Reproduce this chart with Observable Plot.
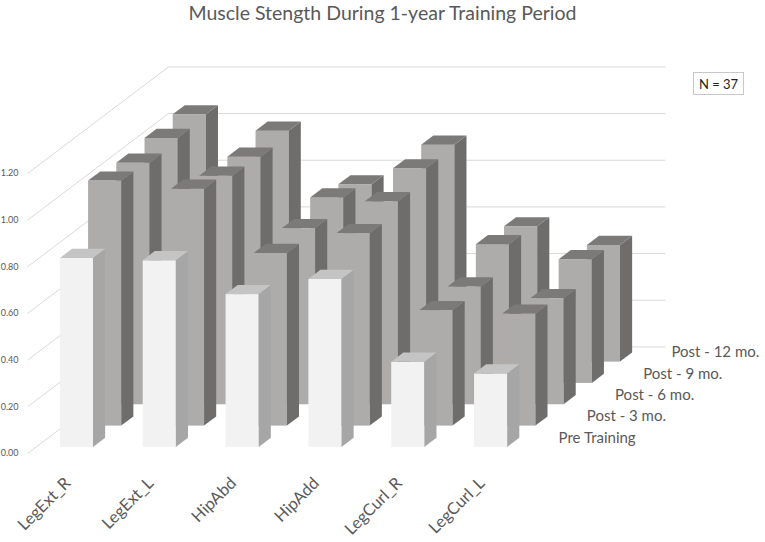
<!DOCTYPE html>
<html>
<head>
<meta charset="utf-8">
<script src="https://cdn.jsdelivr.net/npm/d3@7"></script>
<script src="https://cdn.jsdelivr.net/npm/@observablehq/plot@0.6"></script>
<style>
  body { margin: 0; background: #fff; }
  #wrap { position: relative; width: 765px; height: 542px; font-family: Lato, "Open Sans", sans-serif; }
  #title { position: absolute; left: 0; top: 3px; width: 765px; text-align: center; font: 19.5px/20px Lato, sans-serif; color: #595959; }
  #nbox { position: absolute; left: 693px; top: 72px; width: 51px; height: 23px; border: 1px solid #c8c8c8;
          font: 13px Lato, sans-serif; color: #222; display: flex; align-items: center; justify-content: center; box-sizing: border-box; }
</style>
</head>
<body>
<div id="wrap"><div id="title"></div><div id="nbox">N = 37</div></div>
<script>
const categories = ["LegExt_R", "LegExt_L", "HipAbd", "HipAdd", "LegCurl_R", "LegCurl_L"];
const seriesNames = ["Pre Training", "Post - 3 mo.", "Post - 6 mo.", "Post - 9 mo.", "Post - 12 mo."];
const preTraining = [0.81, 0.80, 0.655, 0.72, 0.365, 0.315];
const post3mo     = [1.05, 1.015, 0.74, 0.825, 0.495, 0.48];
const post6mo     = [1.035, 0.98, 0.755, 0.87, 0.505, 0.455];
const post9mo     = [1.05, 0.97, 0.795, 0.92, 0.595, 0.53];
const post12mo    = [1.06, 0.99, 0.76, 0.93, 0.58, 0.50];
const yTicks = [0, 0.2, 0.4, 0.6, 0.8, 1.0, 1.2];
const title = "Muscle Stength During 1-year Training Period";

const seriesValues = [preTraining, post3mo, post6mo, post9mo, post12mo];

// oblique projection: one depth row shifts by kx category units and ky value units
const kx = 0.3405, ky = 0.0914;
const depth = seriesNames.length;
const nCat = categories.length;
const bandLo = 0.3, bandHi = 0.7, depthLo = 0.285, depthHi = 0.715;

const bars = seriesValues.flatMap((vals, r) => vals.map((v, i) => ({r, i, v, id: r * 100 + i})));

const palette = {
  front: {front: "#f2f2f2", side: "#a6a6a6", top: "#c4c4c4"},
  back:  {front: "#aeabab", side: "#6f6c6c", top: "#7c7979"}
};

function rowMarks(r) {
  const rowBars = bars.filter(b => b.r === r);
  const z0 = r + depthLo, z1 = r + depthHi;
  const c = r === 0 ? palette.front : palette.back;
  const front = rowBars.map(b => ({
    x1: b.i + bandLo + z0 * kx, x2: b.i + bandHi + z0 * kx,
    y1: z0 * ky, y2: b.v + z0 * ky
  }));
  const side = rowBars.flatMap(b => [z0, z1].map(z => ({
    id: b.id, x: b.i + bandHi + z * kx, y1: z * ky, y2: b.v + z * ky
  })));
  const top = rowBars.flatMap(b => [z0, z1].map(z => ({
    id: b.id, y: b.v + z * ky, x1: b.i + bandLo + z * kx, x2: b.i + bandHi + z * kx
  })));
  return [
    Plot.rect(front, {x1: "x1", x2: "x2", y1: "y1", y2: "y2", fill: c.front}),
    Plot.areaY(side, {x: "x", y1: "y1", y2: "y2", z: "id", fill: c.side}),
    Plot.areaX(top, {y: "y", x1: "x1", x2: "x2", z: "id", fill: c.top})
  ];
}

const rows = d3.range(depth).reverse().flatMap(rowMarks);

const chart = Plot.plot({
  width: 765,
  height: 542,
  marginLeft: 27,
  marginRight: 241,
  marginTop: 44.7,
  marginBottom: 89,
  style: {fontFamily: "Lato, 'Open Sans', sans-serif", background: "#fff", overflow: "visible"},
  x: {domain: [0, nCat], axis: null},
  y: {domain: [0, 1.75], axis: null},
  marks: [
    // side wall gridlines
    Plot.link(yTicks, {x1: () => 0, y1: d => d, x2: () => depth * kx, y2: d => d + depth * ky, stroke: "#d9d9d9", strokeWidth: 1}),
    // back wall gridlines
    Plot.link(yTicks, {x1: () => depth * kx, y1: d => d + depth * ky, x2: () => nCat + depth * kx, y2: d => d + depth * ky, stroke: "#d9d9d9", strokeWidth: 1}),
    ...rows,
    // value axis labels
    Plot.text(yTicks, {x: () => 0, y: d => d, text: d => d3.format(".2f")(d), textAnchor: "end", dx: -9, fontSize: 9, fill: "#595959"}),
    // category labels
    Plot.text(categories, {x: (d, i) => i + 0.5, y: () => 0, text: d => d, rotate: -45, textAnchor: "end", dx: -1, dy: 27, fontSize: 16.5, fill: "#595959"}),
    // series (depth) labels
    Plot.text(seriesNames, {x: (d, r) => nCat + (r + 0.5) * kx, y: (d, r) => (r + 0.5) * ky, text: d => d, textAnchor: "start", dx: 20, dy: -5, fontSize: 15, fill: "#595959"})
  ]
});

document.getElementById("title").textContent = title;
document.getElementById("wrap").prepend(chart);
</script>
</body>
</html>
